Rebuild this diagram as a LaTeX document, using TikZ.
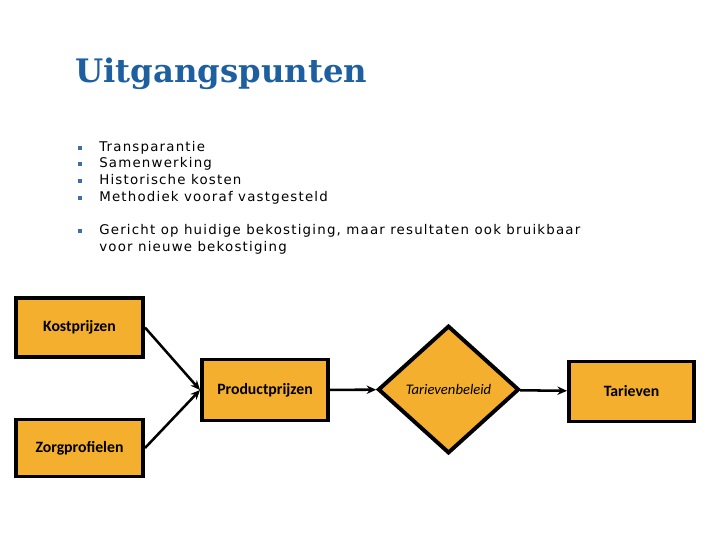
\documentclass[tikz,border=0pt]{standalone}
\usepackage{fontspec}
\usetikzlibrary{shapes.geometric,arrows.meta}
\newfontfamily\titlefont{DejaVu Serif}
\newfontfamily\listfont[LetterSpace=9]{DejaVu Sans}
\newfontfamily\boxfont{Carlito}
\definecolor{titleblue}{RGB}{30,95,160}
\definecolor{bulletblue}{RGB}{60,110,170}
\definecolor{boxorange}{RGB}{243,175,45}
\begin{document}
\begin{tikzpicture}[
  x=0.025cm, y=-0.025cm,
  block/.style={rectangle, draw, line width=2.8pt, fill=boxorange,
                font=\boxfont\bfseries\fontsize{11.2}{13}\selectfont},
  decision/.style={diamond, draw, line width=2.8pt, fill=boxorange, inner sep=0pt,
                   minimum width=3.525cm, minimum height=3.19cm,
                   font=\boxfont\itshape\fontsize{10.4}{12}\selectfont},
  item/.style={anchor=base west, inner sep=0pt,
               font=\listfont\fontsize{9.5}{11.5}\selectfont},
  bullet/.style={rectangle, fill=bulletblue, inner sep=0pt, minimum size=0.1cm},
  arr/.style={-{Stealth[length=2.4mm,width=2.1mm]}, line width=1.8pt}
]
  \useasboundingbox (0,0) rectangle (720,540);

  % Titel
  \node[anchor=base west, inner sep=0pt, text=titleblue,
        font=\titlefont\bfseries\fontsize{23}{27}\selectfont] (title) at (75,82) {Uitgangspunten};

  % Opsomming
  \foreach \txt/\yb [count=\i] in {Transparantie/151, Samenwerking/167.7,
      Historische kosten/184.3, Methodiek vooraf vastgesteld/201.3} {
    \node[bullet] (bul\i) at (80,\yb-3.5) {};
    \node[item] (item\i) at (99,\yb) {\txt};
  }
  \node[bullet] (bul5) at (80,231.2) {};
  \node[item] (item5) at (99,234.7) {Gericht op huidige bekostiging, maar resultaten ook bruikbaar};
  \node[item] (item5b) at (99,251.7) {voor nieuwe bekostiging};

  % Schema
  \node[block, minimum width=3.175cm, minimum height=1.475cm] (kost) at (79.5,327.5) {Kostprijzen};
  \node[block, minimum width=3.175cm, minimum height=1.425cm] (zorg) at (79.5,448) {Zorgprofielen};
  \node[block, minimum width=3.15cm, minimum height=1.525cm] (prod) at (265,390) {Productprijzen};
  \node[decision] (beleid) at (448.5,389.5) {Tarievenbeleid};
  \node[block, minimum width=3.125cm, minimum height=1.5cm] (tar) at (631.5,391.5) {Tarieven};

  \draw[arr] (kost.east) -- (prod.west);
  \draw[arr] (zorg.east) -- (prod.west);
  \draw[arr] (prod) -- (beleid);
  \draw[arr] (beleid) -- (tar);
\end{tikzpicture}
\end{document}
